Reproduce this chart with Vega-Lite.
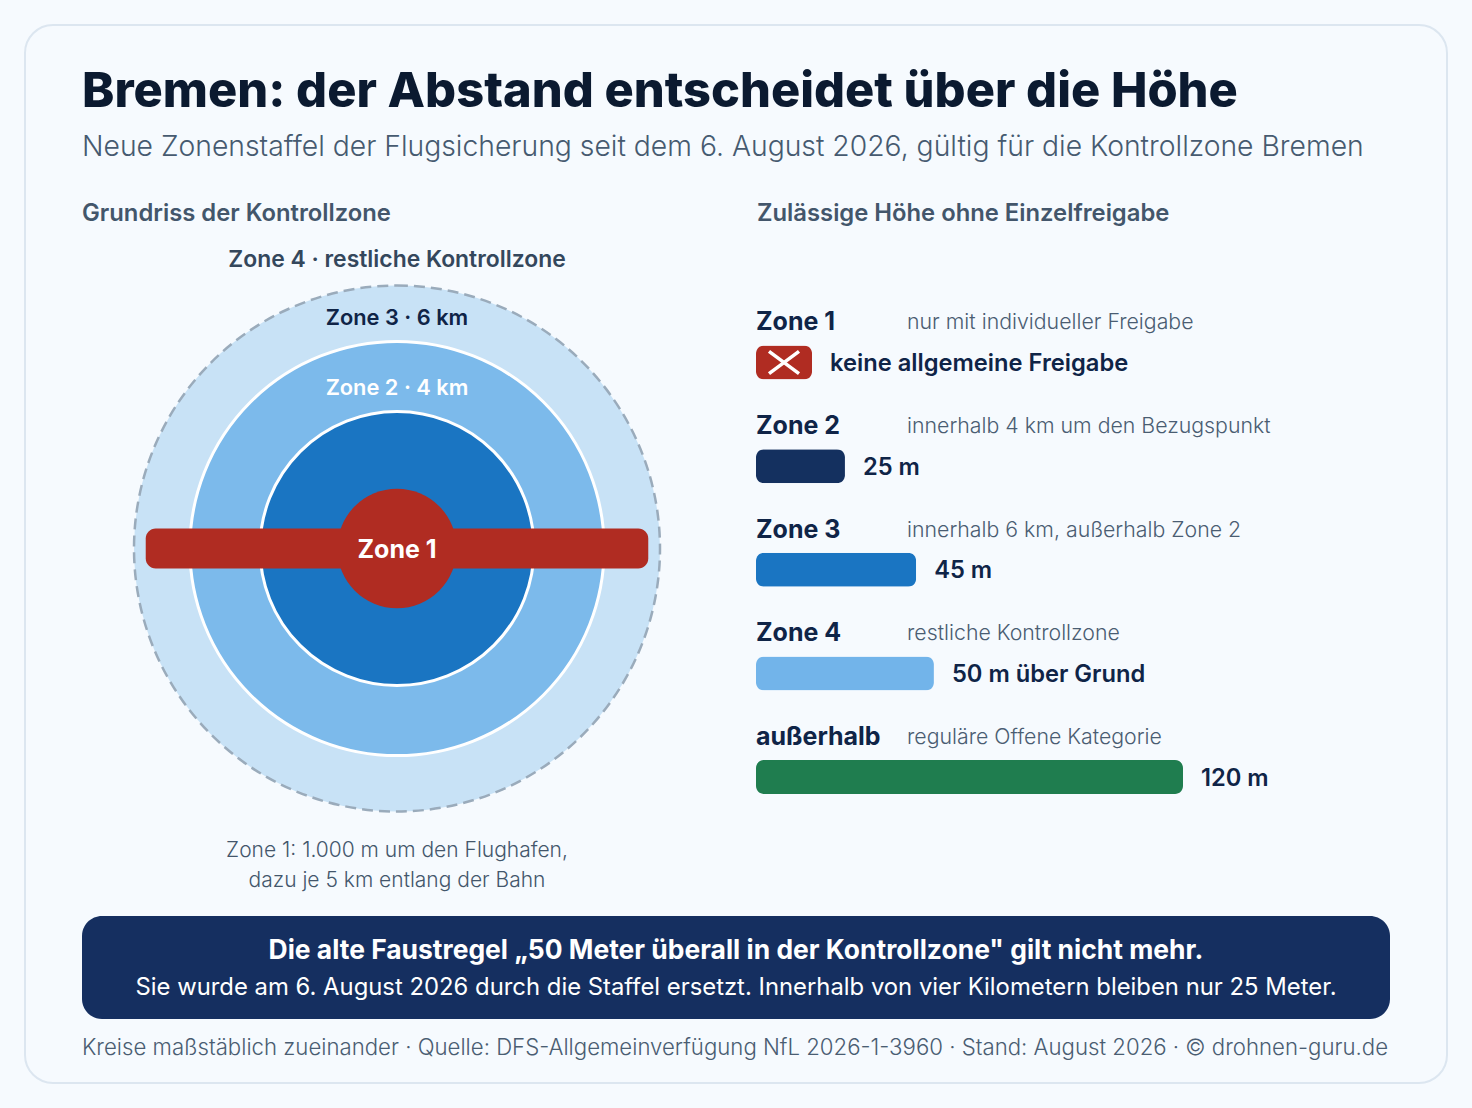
{
"$schema":"https://vega.github.io/schema/vega-lite/v6.json",
"width":1472,"height":1108,"padding":0,"autosize":{"type":"none"},
"background":"#f6fafe",
"config":{"axis":{"disable":true},"legend":{"disable":true},"view":{"stroke":null},"text":{"font":"Inter"}},
"resolve":{"scale":{"x":"independent","y":"independent","color":"independent"}},
"datasets":{
"zonen":[
{"zone":"Zone 4","radiusKm":7.62},
{"zone":"Zone 3","radiusKm":6},
{"zone":"Zone 2","radiusKm":3.97},
{"zone":"Zone 1","radiusKm":1.73}],
"hoehen":[
{"zone":"Zone 1","name":"Zone 1","regel":"nur mit individueller Freigabe","balken":15.75,"wert":"keine allgemeine Freigabe"},
{"zone":"Zone 2","name":"Zone 2","regel":"innerhalb 4 km um den Bezugspunkt","balken":25,"wert":"25 m"},
{"zone":"Zone 3","name":"Zone 3","regel":"innerhalb 6 km, außerhalb Zone 2","balken":45,"wert":"45 m"},
{"zone":"Zone 4","name":"Zone 4","regel":"restliche Kontrollzone","balken":50,"wert":"50 m über Grund"},
{"zone":"außerhalb","name":"außerhalb","regel":"reguläre Offene Kategorie","balken":120,"wert":"120 m"}]
},
"layer":[
{"data":{"values":[{"teil":"Karte"}]},"mark":{"type":"rect","fill":"#f6fafe","stroke":"#dce6f0","strokeWidth":2,"cornerRadius":28},
"encoding":{"x":{"datum":25,"type":"quantitative","scale":{"domain":[0,1472]}},"x2":{"datum":1447},"y":{"datum":25,"type":"quantitative","scale":{"domain":[1108,0]}},"y2":{"datum":1083}}},
{"data":{"values":[{"text":"Bremen: der Abstand entscheidet über die Höhe"}]},"mark":{"type":"text","align":"left","baseline":"middle","fontSize":48.75,"fontWeight":800,"fill":"#0b1a30"},
"encoding":{"x":{"datum":82,"type":"quantitative","scale":{"domain":[0,1472]}},"y":{"datum":92,"type":"quantitative","scale":{"domain":[1108,0]}},"text":{"field":"text"}}},
{"data":{"values":[{"text":"Neue Zonenstaffel der Flugsicherung seit dem 6. August 2026, gültig für die Kontrollzone Bremen"}]},"mark":{"type":"text","align":"left","baseline":"middle","fontSize":28.3,"fontWeight":300,"fill":"#465a70"},
"encoding":{"x":{"datum":82,"type":"quantitative","scale":{"domain":[0,1472]}},"y":{"datum":148,"type":"quantitative","scale":{"domain":[1108,0]}},"text":{"field":"text"}}},
{"data":{"values":[{"text":"Grundriss der Kontrollzone"}]},"mark":{"type":"text","align":"left","baseline":"middle","fontSize":23.8,"fontWeight":600,"fill":"#43566b"},
"encoding":{"x":{"datum":82,"type":"quantitative","scale":{"domain":[0,1472]}},"y":{"datum":214,"type":"quantitative","scale":{"domain":[1108,0]}},"text":{"field":"text"}}},
{"data":{"values":[{"text":"Zulässige Höhe ohne Einzelfreigabe"}]},"mark":{"type":"text","align":"left","baseline":"middle","fontSize":23.8,"fontWeight":600,"fill":"#43566b"},
"encoding":{"x":{"datum":757,"type":"quantitative","scale":{"domain":[0,1472]}},"y":{"datum":214,"type":"quantitative","scale":{"domain":[1108,0]}},"text":{"field":"text"}}},

{"data":{"name":"zonen"},"transform":[{"filter":"datum.zone==='Zone 4'"}],"mark":{"type":"arc","theta":0,"theta2":6.2832,"stroke":"#9aabbb","strokeWidth":2.5,"strokeDash":[11,6]},
"encoding":{"x":{"datum":0,"type":"quantitative","scale":{"domain":[-7.62,7.62],"range":[134,660]}},"y":{"datum":0,"type":"quantitative","scale":{"domain":[-7.62,7.62],"range":[811.5,285.5]}},"radius":{"field":"radiusKm","type":"quantitative","stack":null,"scale":{"type":"linear","domain":[0,7.62],"range":[0,263]}},"color":{"field":"zone","scale":{"domain":["Zone 4"],"range":["#c8e2f6"]}}}},
{"data":{"name":"zonen"},"transform":[{"filter":"datum.zone==='Zone 3'||datum.zone==='Zone 2'"}],"mark":{"type":"arc","theta":0,"theta2":6.2832,"stroke":"#ffffff","strokeWidth":3},
"encoding":{"x":{"datum":0,"type":"quantitative","scale":{"domain":[-7.62,7.62],"range":[134,660]}},"y":{"datum":0,"type":"quantitative","scale":{"domain":[-7.62,7.62],"range":[811.5,285.5]}},"radius":{"field":"radiusKm","type":"quantitative","stack":null,"scale":{"type":"linear","domain":[0,7.62],"range":[0,263]}},"color":{"field":"zone","scale":{"domain":["Zone 3","Zone 2"],"range":["#7cbaeb","#1a75c2"]}}}},
{"data":{"name":"zonen"},"transform":[{"filter":"datum.zone==='Zone 1'"}],"mark":{"type":"arc","theta":0,"theta2":6.2832,"fill":"#b02c22"},
"encoding":{"x":{"datum":0,"type":"quantitative","scale":{"domain":[-7.62,7.62],"range":[134,660]}},"y":{"datum":0,"type":"quantitative","scale":{"domain":[-7.62,7.62],"range":[811.5,285.5]}},"radius":{"field":"radiusKm","type":"quantitative","stack":null,"scale":{"type":"linear","domain":[0,7.62],"range":[0,263]}}}},
{"data":{"values":[{"bauteil":"Bahn","von":-7.28,"bis":7.28,"unten":-0.58,"oben":0.58}]},"mark":{"type":"rect","fill":"#b02c22","cornerRadius":10},
"encoding":{"x":{"field":"von","type":"quantitative","scale":{"domain":[-7.62,7.62],"range":[134,660]}},"x2":{"field":"bis"},"y":{"field":"unten","type":"quantitative","scale":{"domain":[-7.62,7.62],"range":[811.5,285.5]}},"y2":{"field":"oben"}}},
{"data":{"values":[{"text":"Zone 4 · restliche Kontrollzone"}]},"mark":{"type":"text","baseline":"middle","fontSize":22.9,"fontWeight":600,"fill":"#34475c"},
"encoding":{"x":{"datum":0,"type":"quantitative","scale":{"domain":[-7.62,7.62],"range":[134,660]}},"y":{"datum":8.37,"type":"quantitative","scale":{"domain":[-7.62,7.62],"range":[811.5,285.5]}},"text":{"field":"text"}}},
{"data":{"values":[{"text":"Zone 3 · 6 km"}]},"mark":{"type":"text","baseline":"middle","fontSize":21.8,"fontWeight":600,"fill":"#0f2447"},
"encoding":{"x":{"datum":0,"type":"quantitative","scale":{"domain":[-7.62,7.62],"range":[134,660]}},"y":{"datum":6.69,"type":"quantitative","scale":{"domain":[-7.62,7.62],"range":[811.5,285.5]}},"text":{"field":"text"}}},
{"data":{"values":[{"text":"Zone 2 · 4 km"}]},"mark":{"type":"text","baseline":"middle","fontSize":21.8,"fontWeight":600,"fill":"#ffffff"},
"encoding":{"x":{"datum":0,"type":"quantitative","scale":{"domain":[-7.62,7.62],"range":[134,660]}},"y":{"datum":4.66,"type":"quantitative","scale":{"domain":[-7.62,7.62],"range":[811.5,285.5]}},"text":{"field":"text"}}},
{"data":{"values":[{"text":"Zone 1"}]},"mark":{"type":"text","baseline":"middle","fontSize":25,"fontWeight":700,"fill":"#ffffff"},
"encoding":{"x":{"datum":0,"type":"quantitative","scale":{"domain":[-7.62,7.62],"range":[134,660]}},"y":{"datum":-0.05,"type":"quantitative","scale":{"domain":[-7.62,7.62],"range":[811.5,285.5]}},"text":{"field":"text"}}},
{"data":{"values":[{"text":"Zone 1: 1.000 m um den Flughafen,"}]},"mark":{"type":"text","baseline":"middle","fontSize":21,"fontWeight":300,"fill":"#43566b"},
"encoding":{"x":{"datum":0,"type":"quantitative","scale":{"domain":[-7.62,7.62],"range":[134,660]}},"y":{"datum":-8.75,"type":"quantitative","scale":{"domain":[-7.62,7.62],"range":[811.5,285.5]}},"text":{"field":"text"}}},
{"data":{"values":[{"text":"dazu je 5 km entlang der Bahn"}]},"mark":{"type":"text","baseline":"middle","fontSize":21,"fontWeight":300,"fill":"#43566b"},
"encoding":{"x":{"datum":0,"type":"quantitative","scale":{"domain":[-7.62,7.62],"range":[134,660]}},"y":{"datum":-9.62,"type":"quantitative","scale":{"domain":[-7.62,7.62],"range":[811.5,285.5]}},"text":{"field":"text"}}},

{"data":{"name":"hoehen"},"mark":{"type":"text","align":"left","baseline":"middle","fontSize":25,"fontWeight":700,"fill":"#0f2447"},
"encoding":{"x":{"datum":0,"type":"quantitative","scale":{"domain":[0,120],"range":[756,1183]}},"y":{"field":"zone","type":"ordinal","sort":null,"scale":{"type":"point","padding":0,"domain":["Zone 1","Zone 2","Zone 3","Zone 4","außerhalb"],"range":[322,737]}},"text":{"field":"name"}}},
{"data":{"name":"hoehen"},"mark":{"type":"text","align":"left","baseline":"middle","dy":1,"fontSize":21.3,"fontWeight":300,"fill":"#4a5d72"},
"encoding":{"x":{"datum":42.45,"type":"quantitative","scale":{"domain":[0,120],"range":[756,1183]}},"y":{"field":"zone","type":"ordinal","sort":null,"scale":{"type":"point","padding":0,"domain":["Zone 1","Zone 2","Zone 3","Zone 4","außerhalb"],"range":[322,737]}},"text":{"field":"regel"}}},
{"data":{"name":"hoehen"},"mark":{"type":"bar","height":34,"cornerRadius":8},
"encoding":{"x":{"field":"balken","type":"quantitative","scale":{"domain":[0,120],"range":[756,1183]}},"y":{"field":"zone","type":"ordinal","sort":null,"scale":{"type":"point","padding":0,"domain":["Zone 1","Zone 2","Zone 3","Zone 4","außerhalb"],"range":[362.5,777]}},"color":{"field":"zone","scale":{"domain":["Zone 1","Zone 2","Zone 3","Zone 4","außerhalb"],"range":["#b02c22","#14305f","#1a75c2","#72b4ea","#1f7d4f"]}}}},
{"data":{"name":"hoehen"},"transform":[{"filter":"datum.zone==='Zone 1'"}],"mark":{"type":"point","filled":false,"opacity":1,"stroke":"#ffffff","strokeWidth":3.5,"size":900,"shape":"M-1,-0.74L1,0.74M-1,0.74L1,-0.74"},
"encoding":{"x":{"datum":7.87,"type":"quantitative","scale":{"domain":[0,120],"range":[756,1183]}},"y":{"field":"zone","type":"ordinal","sort":null,"scale":{"type":"point","padding":0,"domain":["Zone 1","Zone 2","Zone 3","Zone 4","außerhalb"],"range":[362.5,777]}}}},
{"data":{"name":"hoehen"},"mark":{"type":"text","align":"left","baseline":"middle","dx":18,"dy":1.5,"fontSize":23.7,"fontWeight":600,"fill":"#0f2447"},
"encoding":{"x":{"field":"balken","type":"quantitative","scale":{"domain":[0,120],"range":[756,1183]}},"y":{"field":"zone","type":"ordinal","sort":null,"scale":{"type":"point","padding":0,"domain":["Zone 1","Zone 2","Zone 3","Zone 4","außerhalb"],"range":[362.5,777]}},"text":{"field":"wert"}}},

{"data":{"values":[{"teil":"Hinweis"}]},"mark":{"type":"rect","fill":"#152f60","cornerRadius":20},
"encoding":{"x":{"datum":82,"type":"quantitative","scale":{"domain":[0,1472]}},"x2":{"datum":1390},"y":{"datum":916,"type":"quantitative","scale":{"domain":[1108,0]}},"y2":{"datum":1019}}},
{"data":{"values":[{"text":"Die alte Faustregel „50 Meter überall in der Kontrollzone\" gilt nicht mehr."}]},"mark":{"type":"text","align":"center","baseline":"middle","fontSize":26.45,"fontWeight":700,"fill":"#ffffff"},
"encoding":{"x":{"datum":736,"type":"quantitative","scale":{"domain":[0,1472]}},"y":{"datum":951,"type":"quantitative","scale":{"domain":[1108,0]}},"text":{"field":"text"}}},
{"data":{"values":[{"text":"Sie wurde am 6. August 2026 durch die Staffel ersetzt. Innerhalb von vier Kilometern bleiben nur 25 Meter."}]},"mark":{"type":"text","align":"center","baseline":"middle","fontSize":23.85,"fontWeight":400,"fill":"#ffffff"},
"encoding":{"x":{"datum":736,"type":"quantitative","scale":{"domain":[0,1472]}},"y":{"datum":988,"type":"quantitative","scale":{"domain":[1108,0]}},"text":{"field":"text"}}},
{"data":{"values":[{"text":"Kreise maßstäblich zueinander · Quelle: DFS-Allgemeinverfügung NfL 2026-1-3960 · Stand: August 2026 · © drohnen-guru.de"}]},"mark":{"type":"text","align":"left","baseline":"middle","fontSize":22.2,"fontWeight":300,"fill":"#4a5d72"},
"encoding":{"x":{"datum":82,"type":"quantitative","scale":{"domain":[0,1472]}},"y":{"datum":1048,"type":"quantitative","scale":{"domain":[1108,0]}},"text":{"field":"text"}}}
]
}
